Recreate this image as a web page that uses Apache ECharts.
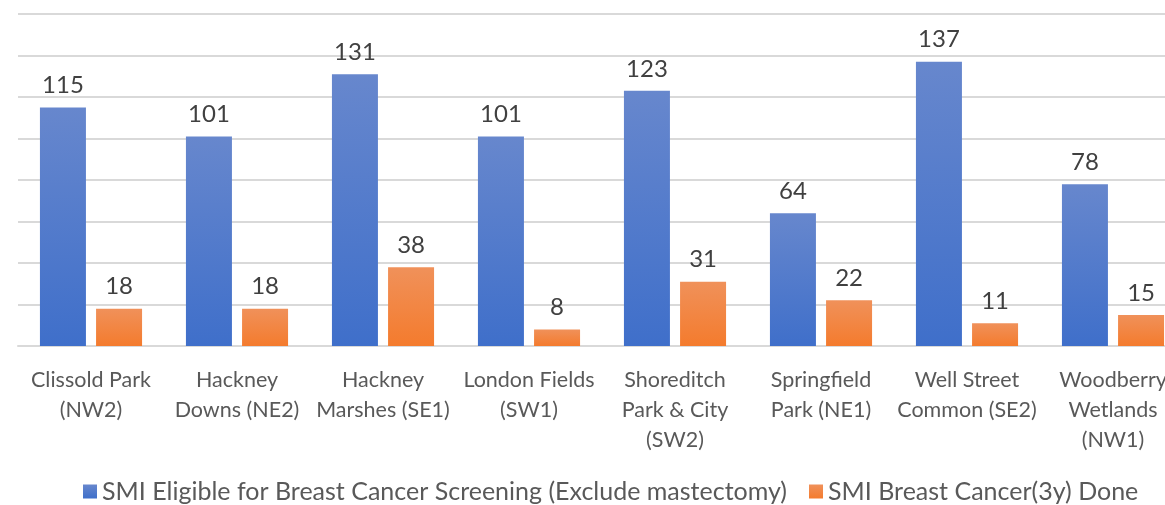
<!DOCTYPE html>
<html>
<head>
<meta charset="utf-8">
<script src="https://cdn.jsdelivr.net/npm/echarts@6/dist/echarts.min.js"></script>
<style>html,body{margin:0;padding:0;background:#fff;overflow:hidden}#c{width:1190px;height:505px}</style>
</head>
<body>
<div id="c"></div>
<script>
const categories = ["Clissold Park\n(NW2)", "Hackney\nDowns (NE2)", "Hackney\nMarshes (SE1)", "London Fields\n(SW1)", "Shoreditch\nPark & City\n(SW2)", "Springfield\nPark (NE1)", "Well Street\nCommon (SE2)", "Woodberry\nWetlands\n(NW1)"];
const eligible = [115, 101, 131, 101, 123, 64, 137, 78];
const done = [18, 18, 38, 8, 31, 22, 11, 15];
const seriesNames = ["SMI Eligible for Breast Cancer Screening (Exclude mastectomy)", "SMI Breast Cancer(3y) Done"];

const FONT = 'Lato';
const chart = echarts.init(document.getElementById('c'), null, {renderer: 'canvas'});
function grad(top, bottom) {
  return new echarts.graphic.LinearGradient(0, 0, 0, 1, [{offset: 0, color: top}, {offset: 1, color: bottom}]);
}
chart.setOption({
  animation: false,
  grid: {left: 18, right: 4, top: 14, bottom: 159, containLabel: false},
  legend: {
    top: 474, left: 78,
    itemWidth: 14, itemHeight: 14, itemGap: 22,
    icon: 'rect',
    textStyle: {fontFamily: FONT, fontSize: 25, color: '#595959'},
    data: seriesNames
  },
  xAxis: {
    type: 'category', data: categories,
    axisLine: {lineStyle: {color: '#d9d9d9', width: 2}},
    axisTick: {show: false},
    axisLabel: {interval: 0, fontFamily: FONT, fontSize: 21.5, color: '#595959', lineHeight: 30, margin: 19}
  },
  yAxis: {
    type: 'value', min: 0, max: 160, interval: 20,
    axisLabel: {show: false}, axisLine: {show: false}, axisTick: {show: false},
    splitLine: {lineStyle: {color: '#d9d9d9', width: 2}}
  },
  series: [
    {
      name: seriesNames[0], type: 'bar', data: eligible, barWidth: 46, barGap: '22%',
      itemStyle: {color: grad('#6787cd', '#3f6fca')},
      label: {show: true, position: 'top', distance: 10, fontFamily: FONT, fontSize: 24, color: '#404040'}
    },
    {
      name: seriesNames[1], type: 'bar', data: done, barWidth: 46,
      itemStyle: {color: grad('#f0915a', '#f47b2d')},
      label: {show: true, position: 'top', distance: 10, fontFamily: FONT, fontSize: 24, color: '#404040'}
    }
  ]
});
</script>
</body>
</html>
